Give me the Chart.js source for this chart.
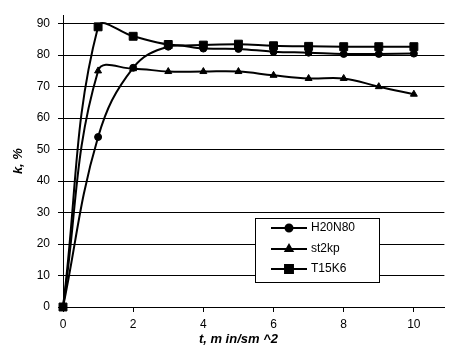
<!DOCTYPE html>
<html>
<head>
<meta charset="utf-8">
<script src="https://cdn.jsdelivr.net/npm/chart.js@4/dist/chart.umd.min.js"></script>
<style>
  html, body { margin: 0; padding: 0; background: #fff; }
  #wrap { width: 451px; height: 363px; }
</style>
</head>
<body>
<div id="wrap"><canvas id="chart" width="451" height="363"></canvas></div>
<script>
// time, min/sm^2
const times = [0, 1, 2, 3, 4, 5, 6, 7, 8, 9, 10];
const h20n80 = [0, 54, 76, 82.7, 82.1, 82, 81.1, 80.8, 80.4, 80.4, 80.5];
const st2kp = [0, 75, 75.7, 74.8, 74.8, 74.8, 73.6, 72.6, 72.6, 70, 67.6];
const t15k6 = [0, 89, 86, 83.4, 83.2, 83.5, 83, 82.8, 82.7, 82.7, 82.7];
const xTicks = [0, 2, 4, 6, 8, 10];
const yTicks = [0, 10, 20, 30, 40, 50, 60, 70, 80, 90];

const FONT = '"Liberation Sans", Arial, sans-serif';

function pts(vals) {
    return vals.map((v, i) => ({ x: times[i], y: v }));
}

// axis titles and the boxed legend inside the plot
const extras = {
    id: 'extras',
    afterDraw(chart) {
        const ctx = chart.ctx;
        const xs = chart.scales.x;
        ctx.save();
        ctx.fillStyle = '#000';
        ctx.font = 'italic bold 13px ' + FONT;
        ctx.textAlign = 'center';
        ctx.textBaseline = 'middle';
        ctx.fillText('t, m in/sm ^2', xs.getPixelForValue(5), 339);

        ctx.save();
        ctx.translate(18, (chart.chartArea.top + chart.chartArea.bottom) / 2);
        ctx.rotate(-Math.PI / 2);
        ctx.fillText('k, %', 0, 0);
        ctx.restore();

        // legend
        const bx = 255.5, by = 218.5, bw = 124, bh = 64;
        ctx.fillStyle = '#fff';
        ctx.fillRect(bx, by, bw, bh);
        ctx.strokeStyle = '#000';
        ctx.lineWidth = 1;
        ctx.strokeRect(bx, by, bw, bh);
        const rows = [228, 249, 269];
        chart.data.datasets.forEach((ds, i) => {
            const y = rows[i];
            ctx.strokeStyle = '#000';
            ctx.lineWidth = 2;
            ctx.beginPath();
            ctx.moveTo(271, y);
            ctx.lineTo(307, y);
            ctx.stroke();
            ctx.fillStyle = '#000';
            Chart.helpers.drawPoint(ctx, {
                pointStyle: ds.pointStyle,
                radius: ds.pointRadius,
                rotation: 0,
                borderWidth: 1
            }, 289, y);
            ctx.fillStyle = '#000';
            ctx.font = '12px ' + FONT;
            ctx.textAlign = 'left';
            ctx.textBaseline = 'middle';
            ctx.fillText(ds.label, 311, y);
        });
        ctx.restore();
    }
};

function series(label, vals, style, r) {
    return {
        label: label,
        data: pts(vals),
        borderColor: '#000',
        backgroundColor: '#000',
        borderWidth: 2,
        tension: 0.4,
        clip: false,
        pointStyle: style,
        pointRadius: r,
        pointBorderWidth: 1,
        pointBackgroundColor: '#000',
        pointBorderColor: '#000'
    };
}

new Chart(document.getElementById('chart'), {
    type: 'line',
    data: {
        datasets: [
            series('H20N80', h20n80, 'circle', 3.5),
            series('st2kp', st2kp, 'triangle', 4),
            series('T15K6', t15k6, 'rect', 5.6)
        ]
    },
    options: {
        responsive: false,
        animation: false,
        events: [],
        layout: { padding: 0 },
        plugins: { legend: { display: false }, tooltip: { enabled: false } },
        scales: {
            x: {
                type: 'linear',
                min: 0,
                max: 10.87,
                afterBuildTicks: s => { s.ticks = xTicks.map(v => ({ value: v })); },
                afterFit: s => { s.height = 56; },
                grid: { drawOnChartArea: false, drawTicks: true, tickLength: 5, color: '#000' },
                border: { color: '#000', width: 1 },
                ticks: { color: '#000', font: { family: FONT, size: 12 }, padding: 5, maxRotation: 0 }
            },
            y: {
                type: 'linear',
                min: 0,
                max: 92.7,
                afterBuildTicks: s => { s.ticks = yTicks.map(v => ({ value: v })); },
                afterFit: s => { s.width = 63; },
                grid: { color: '#000', lineWidth: 1, drawTicks: true, tickLength: 5 },
                border: { color: '#000', width: 1 },
                ticks: { color: '#000', font: { family: FONT, size: 12 }, padding: 8 }
            }
        }
    },
    plugins: [extras]
});
</script>
</body>
</html>
